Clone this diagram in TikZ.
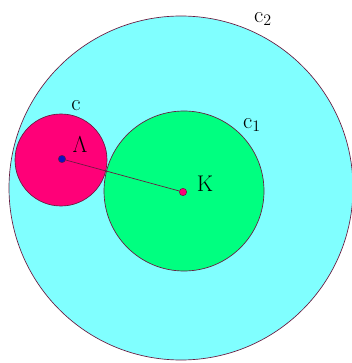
\documentclass[tikz,border=0pt]{standalone}
\begin{document}
\begin{tikzpicture}[x=0.75pt,y=-0.75pt,font=\fontsize{17}{19}\selectfont]
\definecolor{ccyan}{HTML}{80FFFF}\definecolor{cgreen}{HTML}{00FF80}
\definecolor{cpink}{HTML}{FF0078}\definecolor{cline}{HTML}{6A1A40}
\definecolor{cblue}{HTML}{1010C0}
\tikzset{disc/.style={circle,draw=cline,line width=0.5pt,inner sep=0pt},
 dot/.style={circle,draw=cline,line width=0.4pt,inner sep=0pt,minimum size=5.5pt}}
\useasboundingbox (0,0) rectangle (352,363);
\clip (0,0) rectangle (352,363);
\fill[white] (0,0) rectangle (352,363);
\node[disc,fill=ccyan,minimum size=344*0.75pt] (cbig) at (181,188) {};
\node[disc,fill=cgreen,minimum size=160*0.75pt] (cone) at (184,191) {};
\node[disc,fill=cpink,minimum size=92*0.75pt] (csmall) at (61,160) {};
\node[dot,fill=cblue] (L) at (62,159) {};
\node[dot,fill=cpink] (K) at (183,192) {};
\draw[cline,line width=0.5pt] (L) -- (K);
\node (lL) at (80,145) {$\Lambda$};
\node (lK) at (205,184) {K};
\node (lc) at (76,106) {c};
\node (lcone) at (252,125) {c$_1$};
\node (lctwo) at (263,19) {c$_2$};
\end{tikzpicture}
\end{document}
